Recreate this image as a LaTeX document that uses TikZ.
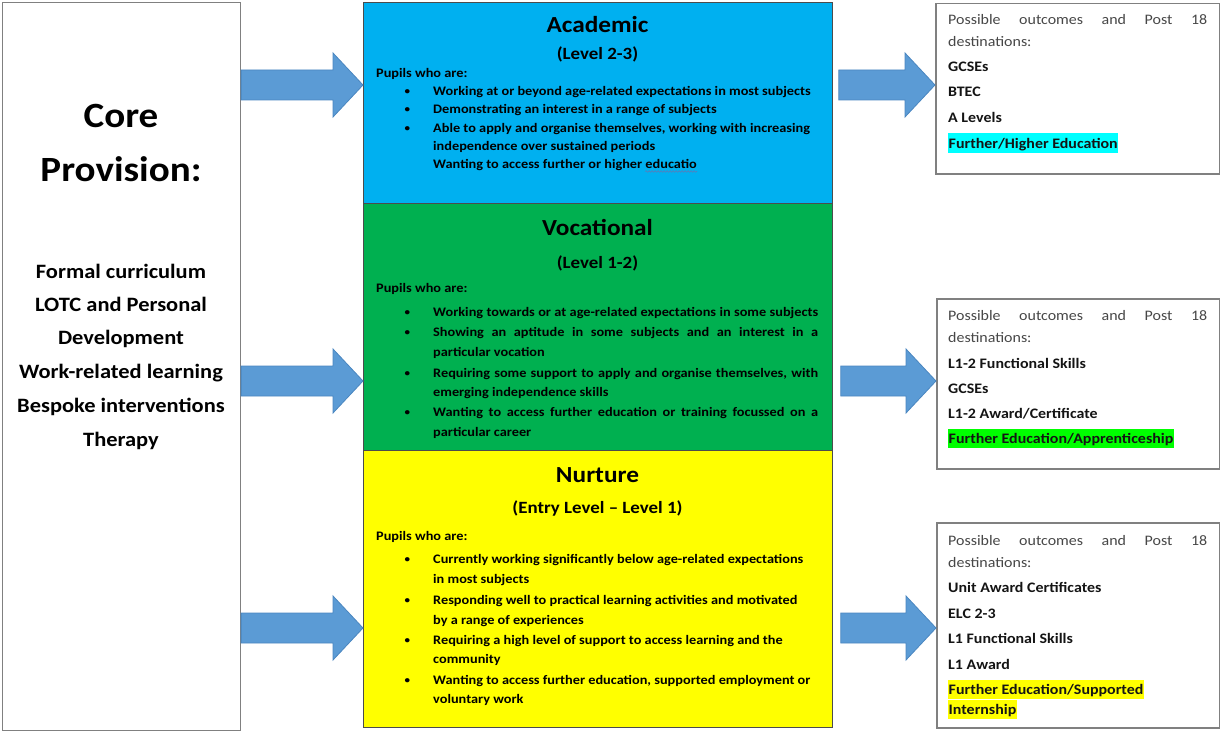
\documentclass[tikz,border=0pt]{standalone}
\usepackage{fontspec}
\setmainfont{Carlito}[FakeStretch=1.1]
\usetikzlibrary{calc,decorations.pathmorphing}
\definecolor{acadblue}{HTML}{00B0F0}
\definecolor{vocgreen}{HTML}{00B050}
\definecolor{nurtyellow}{HTML}{FFFF00}
\definecolor{arrowfill}{HTML}{5B9BD5}
\definecolor{arrowline}{HTML}{4A86C0}
\definecolor{hlcyan}{HTML}{00FFFF}
\definecolor{hlgreen}{HTML}{00FF00}
\definecolor{hlyellow}{HTML}{FFFF00}
\definecolor{wavyblue}{HTML}{5A7DB8}
\newcommand\bul{\llap{\raisebox{0.8pt}{\fontsize{10}{10}\selectfont\textbullet}\hspace{23pt}}}
\newcommand\blockarrow[2]{%
  \path[blockarrowstyle] let \p1=(#1), \p2=(#2) in
    (\x1,\y1+15pt) -- (\x2-30pt,\y1+15pt) -- (\x2-30pt,\y1+32pt) -- (\x2,\y1)
    -- (\x2-30pt,\y1-32pt) -- (\x2-30pt,\y1-15pt) -- (\x1,\y1-15pt) -- cycle;}
\begin{document}
\begin{tikzpicture}[x=1pt,y=-1pt,
  corebox/.style={draw=black!50, line width=1.1pt, fill=white, inner sep=0pt, anchor=north west},
  bandbox/.style={draw=black!70, line width=0.8pt, inner sep=0pt, anchor=north west},
  outbox/.style={draw=black!50, line width=1.5pt, fill=white, inner sep=0pt, anchor=north west},
  blockarrowstyle/.style={fill=arrowfill, draw=arrowline, line width=0.8pt},
  btxt/.style={inner sep=0pt, anchor=base west, font=\fontsize{13}{15}\selectfont\bfseries},
  ttl/.style={inner sep=0pt, anchor=base, font=\fontsize{23}{27}\selectfont\bfseries},
  lvl/.style={inner sep=0pt, anchor=base, font=\fontsize{17.2}{20}\selectfont\bfseries},
  corettl/.style={inner sep=0pt, anchor=base, font=\fontsize{35.5}{40}\selectfont\bfseries},
  coreitem/.style={inner sep=0pt, anchor=base, font=\fontsize{20.4}{24}\selectfont\bfseries},
  outreg/.style={inner sep=0pt, anchor=base west, text=black!72, font=\fontsize{14.5}{17}\selectfont},
  outbold/.style={inner sep=0pt, anchor=base west, text=black!92, font=\fontsize{14.5}{17}\selectfont\bfseries},
  outhl/.style={outbold, fill=#1, inner xsep=0.5pt, text height=14.5pt, text depth=5pt}
]
\useasboundingbox (0,0) rectangle (1220,733);

% ---------- boxes ----------
\node[corebox, minimum width=238pt, minimum height=728pt] (core) at (2,2) {};
\node[bandbox, fill=acadblue, minimum width=469pt, minimum height=201pt] (acad) at (363,2) {};
\node[bandbox, fill=vocgreen, minimum width=469pt, minimum height=247pt] (voc) at (363,203) {};
\node[bandbox, fill=nurtyellow, minimum width=469pt, minimum height=277pt] (nurt) at (363,450) {};
\node[outbox, minimum width=284pt, minimum height=170pt] (out1) at (935,3) {};
\node[outbox, minimum width=283pt, minimum height=170pt] (out2) at (936,298) {};
\node[outbox, minimum width=283pt, minimum height=205pt] (out3) at (936,522) {};

% ---------- arrow levels ----------
\coordinate (lv1) at (0,85);
\coordinate (lv2) at (0,381);
\coordinate (lv3) at (0,628);

\blockarrow{core.east |- lv1}{acad.west |- lv1}
\blockarrow{core.east |- lv2}{voc.west |- lv2}
\blockarrow{core.east |- lv3}{nurt.west |- lv3}
\coordinate (as1) at ([xshift=6pt]acad.east |- lv1);
\coordinate (as2) at ([xshift=8pt]voc.east |- lv2);
\coordinate (as3) at ([xshift=8pt]nurt.east |- lv3);
\blockarrow{as1}{out1.west |- lv1}
\blockarrow{as2}{out2.west |- lv2}
\blockarrow{as3}{out3.west |- lv3}

% ---------- core provision ----------
\node[corettl] (ct1) at (121,128) {Core};
\node[corettl] (ct2) at (121,181) {Provision:};
\foreach \yy/\tx [count=\i] in {278/{Formal curriculum}, 311/{LOTC and Personal}, 344/{Development},
  378/{Work-related learning}, 412/{Bespoke interventions}, 446/{Therapy}}
  \node[coreitem] (ci\i) at (121,\yy) {\tx};

% ---------- academic ----------
\node[ttl] (at) at (597.5,33) {Academic};
\node[lvl] (al) at (597.5,60) {(Level 2-3)};
\node[btxt] (ap) at (376,77.5) {Pupils who are:};
\foreach \yy/\tx [count=\i] in {
  95.7/{\bul Working at or beyond age-related expectations in most subjects},
  113.7/{\bul Demonstrating an interest in a range of subjects},
  132/{\bul Able to apply and organise themselves, working with increasing},
  150.5/{independence over sustained periods},
  168.5/{Wanting to access further or higher educatio}}
  \node[btxt] (ac\i) at (433,\yy) {\tx};
\draw[wavyblue, line width=0.6pt, decorate, decoration={snake, amplitude=0.8pt, segment length=3pt}]
  ([xshift=-52pt,yshift=-3pt]ac5.base east) -- ([yshift=-3pt]ac5.base east);

% ---------- vocational ----------
\node[ttl] (vt) at (597.5,235) {Vocational};
\node[lvl] (vl) at (597.5,268) {(Level 1-2)};
\node[btxt] (vp) at (376,292) {Pupils who are:};
\foreach \yy/\tx [count=\i] in {
  316/{\bul\makebox[385pt][s]{Working towards or at age-related expectations in some subjects}},
  336/{\bul\makebox[385pt][s]{Showing an aptitude in some subjects and an interest in a}},
  356/{particular vocation},
  377/{\bul\makebox[385pt][s]{Requiring some support to apply and organise themselves, with}},
  396/{emerging independence skills},
  416/{\bul\makebox[385pt][s]{Wanting to access further education or training focussed on a}},
  436/{particular career}}
  \node[btxt] (vc\i) at (433,\yy) {\tx};

% ---------- nurture ----------
\node[ttl] (nt) at (597.5,482) {Nurture};
\node[lvl] (nl) at (597.5,513) {(Entry Level -- Level 1)};
\node[btxt] (np) at (376,540) {Pupils who are:};
\foreach \yy/\tx [count=\i] in {
  563/{\bul Currently working significantly below age-related expectations},
  583/{in most subjects},
  604/{\bul Responding well to practical learning activities and motivated},
  624/{by a range of experiences},
  644/{\bul Requiring a high level of support to access learning and the},
  663/{community},
  684/{\bul Wanting to access further education, supported employment or},
  703/{voluntary work}}
  \node[btxt] (nc\i) at (433,\yy) {\tx};

% ---------- outcomes 1 ----------
\node[outreg] (o1a) at (948,25) {\makebox[259pt][s]{Possible outcomes and Post 18}};
\node[outreg] (o1b) at (948,47) {destinations:};
\foreach \yy/\tx [count=\i] in {72/{GCSEs}, 97/{BTEC}, 123/{A Levels}}
  \node[outbold] (o1c\i) at (948,\yy) {\tx};
\node[outhl=hlcyan] (o1h) at (948,148) {Further/Higher Education};

% ---------- outcomes 2 ----------
\node[outreg] (o2a) at (948,320) {\makebox[259pt][s]{Possible outcomes and Post 18}};
\node[outreg] (o2b) at (948,342) {destinations:};
\foreach \yy/\tx [count=\i] in {368/{L1-2 Functional Skills}, 393/{GCSEs}, 418/{L1-2 Award/Certificate}}
  \node[outbold] (o2c\i) at (948,\yy) {\tx};
\node[outhl=hlgreen] (o2h) at (948,443) {Further Education/Apprenticeship};

% ---------- outcomes 3 ----------
\node[outreg] (o3a) at (948,545) {\makebox[259pt][s]{Possible outcomes and Post 18}};
\node[outreg] (o3b) at (948,567) {destinations:};
\foreach \yy/\tx [count=\i] in {592/{Unit Award Certificates}, 618/{ELC 2-3}, 643/{L1 Functional Skills}, 669/{L1 Award}}
  \node[outbold] (o3c\i) at (948,\yy) {\tx};
\node[outhl=hlyellow] (o3h1) at (948,694) {Further Education/Supported};
\node[outhl=hlyellow] (o3h2) at (948,714) {Internship};
\end{tikzpicture}
\end{document}
